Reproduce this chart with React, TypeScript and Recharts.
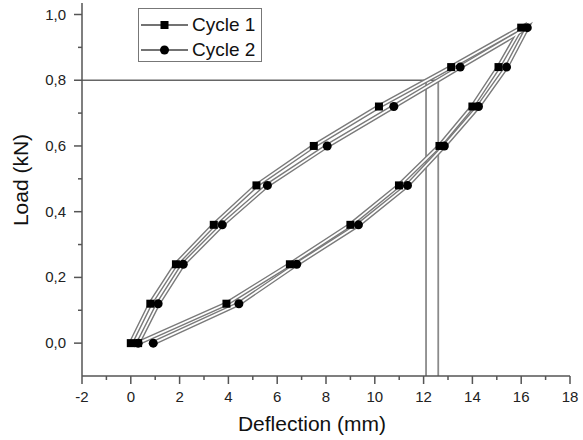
import React from 'react';
import { LineChart, Line, XAxis, YAxis, ReferenceLine, Legend, Customized } from 'recharts';

// Load steps (kN) shared by both cycles: loading then unloading
const loadSteps = [0, 0.12, 0.24, 0.36, 0.48, 0.6, 0.72, 0.84, 0.96, 0.84, 0.72, 0.6, 0.48, 0.36, 0.24, 0.12, 0];
// Deflection (mm)
const cycle1Deflection = [0, 0.8, 1.85, 3.4, 5.15, 7.5, 10.17, 13.13, 16.0, 15.07, 14.0, 12.65, 10.99, 9.0, 6.52, 3.92, 0.3];
const cycle2Deflection = [0.3, 1.12, 2.15, 3.75, 5.6, 8.05, 10.78, 13.5, 16.25, 15.4, 14.25, 12.85, 11.34, 9.33, 6.8, 4.43, 0.92];

const seriesNames = ['Cycle 1', 'Cycle 2'];
const xTicks = [-2, -1, 0, 1, 2, 3, 4, 5, 6, 7, 8, 9, 10, 11, 12, 13, 14, 15, 16, 17, 18];
const yTicks = [0, 0.1, 0.2, 0.3, 0.4, 0.5, 0.6, 0.7, 0.8, 0.9, 1.0];
const markLoad = 0.8;
const markDeflections = [12.1, 12.6];

const cycle1 = cycle1Deflection.map((d, i) => ({ x: d, y: loadSteps[i] }));
const cycle2 = cycle2Deflection.map((d, i) => ({ x: d, y: loadSteps[i] }));

const FONT = '"Liberation Sans", Arial, Helvetica, sans-serif';
const AXIS = '#555';

const XTick = (props: any) => {
  const { x, y, payload } = props;
  const v = payload.value;
  const major = Math.round(v) % 2 === 0;
  return (
    <g>
      <line x1={x} x2={x} y1={y} y2={y + (major ? 8 : 4)} stroke={AXIS} strokeWidth={1.5} />
      {major && (
        <text x={x} y={y + 26} textAnchor="middle" fontSize={15} fill="#222" fontFamily={FONT}>
          {v}
        </text>
      )}
    </g>
  );
};

const YTick = (props: any) => {
  const { x, y, payload } = props;
  const v = payload.value;
  const major = Math.round(v * 10) % 2 === 0;
  return (
    <g>
      <line x1={x - (major ? 8 : 4)} x2={x} y1={y} y2={y} stroke={AXIS} strokeWidth={1.5} />
      {major && (
        <text x={x - 16} y={y + 5} textAnchor="end" fontSize={15} fill="#222" fontFamily={FONT}>
          {v.toFixed(1).replace('.', ',')}
        </text>
      )}
    </g>
  );
};

const SquareDot = (props: any) => {
  const { cx, cy, index } = props;
  if (cx == null || cy == null) return <g key={`s${index}`} />;
  return <rect key={`s${index}`} x={cx - 4} y={cy - 4} width={8} height={8} fill="#000" />;
};

const CircleDot = (props: any) => {
  const { cx, cy, index } = props;
  if (cx == null || cy == null) return <g key={`c${index}`} />;
  return <circle key={`c${index}`} cx={cx} cy={cy} r={4.5} fill="#000" />;
};

const renderLegend = () => (
  <div
    style={{
      border: '1px solid #777',
      width: 124,
      height: 54,
      boxSizing: 'border-box',
      background: '#fff',
      paddingTop: 3,
      fontFamily: FONT,
      fontSize: 19,
      color: '#111',
    }}
  >
    {seriesNames.map((name, i) => (
      <div key={name} style={{ display: 'flex', alignItems: 'center', height: 25 }}>
        <svg width={52} height={20} style={{ marginLeft: 1 }}>
          <line x1={1} x2={48} y1={10} y2={10} stroke="#444" strokeWidth={1.5} />
          {i === 0 ? (
            <rect x={20.5} y={6} width={8} height={8} fill="#000" />
          ) : (
            <circle cx={24.5} cy={10} r={4.5} fill="#000" />
          )}
        </svg>
        <span style={{ lineHeight: '20px' }}>{name}</span>
      </div>
    ))}
  </div>
);

const Titles = () => (
  <g fontFamily={FONT} fill="#111">
    <text x={312} y={431} textAnchor="middle" fontSize={21}>
      Deflection (mm)
    </text>
    <text x={28} y={180} textAnchor="middle" fontSize={21} transform="rotate(-90, 28, 180)">
      Load (kN)
    </text>
  </g>
);

export default function App() {
  return (
    <div style={{ position: 'absolute', left: 0, top: 0, width: 583, height: 440, background: '#fff' }}>
      <LineChart width={583} height={440} margin={{ top: 3, right: 13, bottom: 0, left: 0 }}>
        <XAxis
          type="number"
          dataKey="x"
          domain={[-2, 18]}
          ticks={xTicks}
          interval={0}
          height={64}
          tickSize={0}
          tickMargin={0}
          tickLine={false}
          tick={<XTick />}
          axisLine={{ stroke: AXIS, strokeWidth: 1.5 }}
          allowDataOverflow
        />
        <YAxis
          type="number"
          dataKey="y"
          domain={[-0.1, 1.035]}
          ticks={yTicks}
          interval={0}
          width={82}
          tickSize={0}
          tickMargin={0}
          tickLine={false}
          tick={<YTick />}
          axisLine={{ stroke: AXIS, strokeWidth: 1.5 }}
          allowDataOverflow
        />
        <ReferenceLine
          segment={[{ x: -2, y: markLoad }, { x: markDeflections[1], y: markLoad }]}
          stroke="#666"
          strokeWidth={1.3}
        />
        {markDeflections.map((d) => (
          <ReferenceLine
            key={d}
            segment={[{ x: d, y: -0.1 }, { x: d, y: markLoad }]}
            stroke="#8a8a8a"
            strokeWidth={1.8}
          />
        ))}
        <Line data={cycle1} dataKey="y" stroke="#7a7a7a" strokeWidth={4.5} dot={false} activeDot={false} isAnimationActive={false} legendType="none" />
        <Line data={cycle2} dataKey="y" stroke="#7a7a7a" strokeWidth={4.5} dot={false} activeDot={false} isAnimationActive={false} legendType="none" />
        <Line data={cycle1} dataKey="y" stroke="#fff" strokeWidth={1.7} dot={false} activeDot={false} isAnimationActive={false} legendType="none" />
        <Line data={cycle2} dataKey="y" stroke="#fff" strokeWidth={1.7} dot={false} activeDot={false} isAnimationActive={false} legendType="none" />
        <Line data={cycle1} dataKey="y" name={seriesNames[0]} stroke="none" strokeWidth={0} dot={<SquareDot />} activeDot={false} isAnimationActive={false} />
        <Line data={cycle2} dataKey="y" name={seriesNames[1]} stroke="none" strokeWidth={0} dot={<CircleDot />} activeDot={false} isAnimationActive={false} />
        <Legend
          layout="horizontal"
          verticalAlign="middle"
          align="center"
          content={renderLegend}
          wrapperStyle={{ left: 138, top: 8, width: 124, height: 54 }}
        />
        <Customized component={Titles} />
      </LineChart>
    </div>
  );
}
